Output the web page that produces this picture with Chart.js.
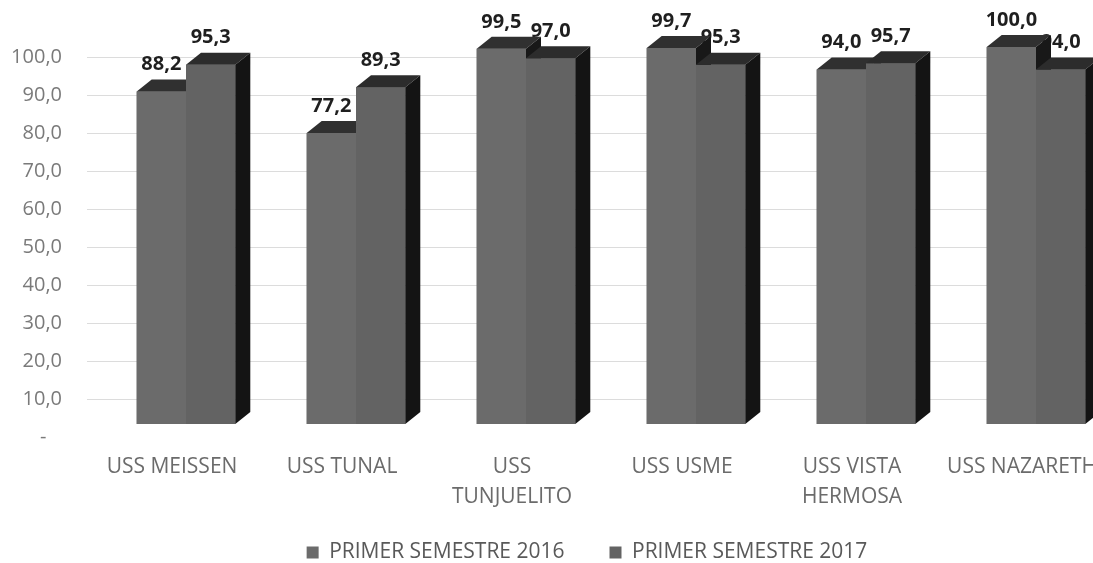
<!DOCTYPE html>
<html>
<head>
<meta charset="utf-8">
<script src="https://cdn.jsdelivr.net/npm/chart.js@4.4.0/dist/chart.umd.min.js"></script>
<style>
  html, body { margin: 0; padding: 0; background: #fff; overflow: hidden; }
  #wrap { width: 1093px; height: 563px; overflow: hidden; }
</style>
</head>
<body>
<div id="wrap"><canvas id="chart" width="1174" height="563"></canvas></div>
<script>
// data
const categories = ['USS MEISSEN', 'USS TUNAL', ['USS', 'TUNJUELITO'], 'USS USME', ['USS VISTA', 'HERMOSA'], 'USS NAZARETH'];
const seriesNames = ['PRIMER SEMESTRE 2016', 'PRIMER SEMESTRE 2017'];
const semestre2016 = [88.2, 77.2, 99.5, 99.7, 94.0, 100.0];
const semestre2017 = [95.3, 89.3, 97.0, 95.3, 95.7, 94.0];
const yTickValues = [0, 10, 20, 30, 40, 50, 60, 70, 80, 90, 100];

// look of the fake 3D boxes
const frontColors = ['#6b6b6b', '#636363'];
const topColors = ['#303030', '#2c2c2c'];
const sideColors = ['#181818', '#141414'];
const DEPTH_X = 15, DEPTH_Y = -12, SHIFT_X = 14;

function fmt(v) {
    return v.toFixed(1).replace('.', ',');
}

function drawFaces(chart, i) {
    const ctx = chart.ctx;
    chart.getDatasetMeta(i).data.forEach(el => {
        const {x, y, base, width} = el.getProps(['x', 'y', 'base', 'width'], true);
        const l = x - width / 2, r = x + width / 2;
        el.draw(ctx);
        // top
        ctx.fillStyle = topColors[i];
        ctx.beginPath();
        ctx.moveTo(l, y);
        ctx.lineTo(l + DEPTH_X, y + DEPTH_Y);
        ctx.lineTo(r + DEPTH_X, y + DEPTH_Y);
        ctx.lineTo(r, y);
        ctx.closePath();
        ctx.fill();
        // side
        ctx.fillStyle = sideColors[i];
        ctx.beginPath();
        ctx.moveTo(r, y);
        ctx.lineTo(r + DEPTH_X, y + DEPTH_Y);
        ctx.lineTo(r + DEPTH_X, base + DEPTH_Y);
        ctx.lineTo(r, base);
        ctx.closePath();
        ctx.fill();
    });
}

function drawLabels(chart, i) {
    const ctx = chart.ctx;
    const values = chart.data.datasets[i].data;
    ctx.font = '700 20px "Open Sans", sans-serif';
    ctx.fillStyle = '#1f1f1f';
    ctx.textAlign = 'center';
    ctx.textBaseline = 'middle';
    chart.getDatasetMeta(i).data.forEach((el, j) => {
        const {x, y} = el.getProps(['x', 'y'], true);
        ctx.fillText(fmt(values[j]), x, y + DEPTH_Y - 15);
    });
}

// back boxes first, labels of the back series get hidden the way excel does it
const bars3d = {
    id: 'bars3d',
    afterLayout(chart) {
        // let the two-line category labels show below the axis box
        chart.scales.x.bottom = chart.height;
        // legend centred on the whole canvas, not only left of the right padding
        chart.legend.left = 0;
        chart.legend.right = chart.width;
        chart.legend.width = chart.width;
    },
    beforeDatasetsDraw(chart) {
        chart.ctx.save();
        chart.ctx.translate(SHIFT_X, 0);
    },
    afterDatasetsDraw(chart) {
        drawLabels(chart, 1);
        drawFaces(chart, 0);
        drawLabels(chart, 0);
        drawFaces(chart, 1);
        chart.ctx.restore();
    }
};

Chart.defaults.font.family = '"Open Sans", sans-serif';

new Chart(document.getElementById('chart'), {
    type: 'bar',
    data: {
        labels: categories,
        datasets: [
            { label: seriesNames[0], data: semestre2016, backgroundColor: frontColors[0], borderWidth: 0, yAxisID: 'yb', clip: false },
            { label: seriesNames[1], data: semestre2017, backgroundColor: frontColors[1], borderWidth: 0, yAxisID: 'yb', clip: false }
        ]
    },
    options: {
        responsive: false,
        animation: false,
        categoryPercentage: 0.58,
        barPercentage: 1,
        layout: { padding: { top: 57, left: 0, right: 67, bottom: -10 } },
        plugins: {
            tooltip: { enabled: false },
            legend: {
                position: 'bottom',
                labels: {
                    boxWidth: 12,
                    boxHeight: 12,
                    padding: 45,
                    color: '#595959',
                    font: { size: 21 }
                }
            }
        },
        scales: {
            x: {
                grid: { display: false },
                border: { display: false },
                ticks: {
                    color: '#6b6b6b',
                    padding: 7,
                    maxRotation: 0,
                    autoSkip: false,
                    font: { size: 21, lineHeight: 1.43 }
                },
                afterFit: s => { s.height = 60; }
            },
            y: {
                min: 0,
                max: 100,
                afterBuildTicks: s => { s.ticks = yTickValues.map(v => ({ value: v })); },
                afterFit: s => { s.width = 87; },
                border: { display: false },
                grid: {
                    drawTicks: false,
                    color: c => c.tick && c.tick.value === 0 ? 'rgba(0,0,0,0)' : '#dcdcdc'
                },
                ticks: {
                    color: '#7a7a7a',
                    padding: 25,
                    font: { size: 20 },
                    callback: v => v === 0 ? '-   ' : fmt(v)
                }
            },
            yb: {
                display: false,
                min: -3.46,
                max: 97.34
            }
        }
    },
    plugins: [bars3d]
});
</script>
</body>
</html>
